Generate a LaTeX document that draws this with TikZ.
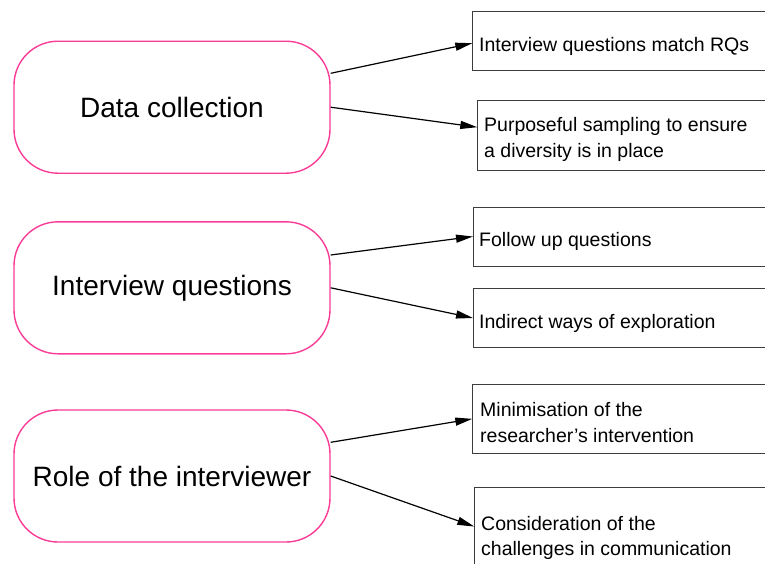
\documentclass[tikz,border=0pt]{standalone}
\usepackage{fontspec}
\setmainfont{Liberation Sans}
\usetikzlibrary{arrows.meta}
\definecolor{pinkline}{RGB}{250,60,150}
\definecolor{boxline}{RGB}{60,60,60}
\begin{document}
\begin{tikzpicture}[x=1pt,y=-1pt,
  topic/.style={draw=pinkline, line width=1.4pt, rounded corners=44pt,
    minimum width=316pt, minimum height=132pt, inner sep=0pt,
    font=\fontsize{28}{34}\selectfont},
  item/.style={draw=boxline, line width=1pt, anchor=north west,
    minimum width=330pt, inner sep=0pt},
  itemtext/.style={anchor=base west, align=left, inner sep=0pt,
    font=\fontsize{19.5}{25.5}\selectfont},
  link/.style={-{Triangle[length=17pt,width=8pt]}, line width=1.2pt}]
\useasboundingbox (0,0) rectangle (765,563);
\clip (0,0) rectangle (765,563);

% left topic boxes
\node[topic] (L1) at (172,107.2) {Data collection};
\node[topic] (L2) at (172,287.8) {Interview questions};
\node[topic] (L3) at (172,476) {Role of the interviewer};

% right item boxes
\node[item, minimum height=59pt] (R1) at (472.3,11) {};
\node[item, minimum height=70pt] (R2) at (477.3,100) {};
\node[item, minimum height=59pt] (R3) at (473,207) {};
\node[item, minimum height=59pt] (R4) at (473,288) {};
\node[item, minimum height=68.7pt] (R5) at (472.3,384) {};
\node[item, minimum height=90pt] (R6) at (474.3,487.3) {};

% item texts (base anchor = baseline of the last line)
\node[itemtext] (T1) at (479,51.7) {Interview questions match RQs};
\node[itemtext] (T2) at (484,157.2) {Purposeful sampling to ensure\\a diversity is in place};
\node[itemtext] (T3) at (479,246.7) {Follow up questions};
\node[itemtext] (T4) at (479,328.3) {Indirect ways of exploration};
\node[itemtext] (T5) at (480,442.2) {Minimisation of the\\researcher’s intervention};
\node[itemtext] (T6) at (481,555.5) {Consideration of the\\challenges in communication};

% connectors
\draw[link] ([yshift=33.9pt]L1.east) -- ([yshift=-2.2pt]R1.west);
\draw[link] (L1.east) -- ([yshift=8.3pt]R2.west);
\draw[link] ([yshift=32.8pt]L2.east) -- ([yshift=0.5pt]R3.west);
\draw[link] (L2.east) -- (R4.west);
\draw[link] ([yshift=33.7pt]L3.east) -- (R5.west);
\draw[link] (L3.east) -- ([yshift=6.3pt]R6.west);
\end{tikzpicture}
\end{document}
